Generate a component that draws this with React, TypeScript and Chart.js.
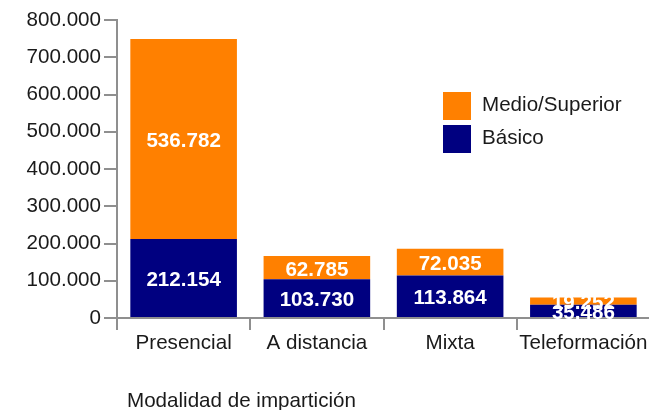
import React, { useEffect, useRef } from "react";
import { Chart, registerables } from "chart.js";

Chart.register(...registerables);

const categories = ["Presencial", "A distancia", "Mixta", "Teleformación"];
const basico = [212154, 103730, 113864, 35486];
const medioSuperior = [536782, 62785, 72035, 19252];
const seriesNames = ["Básico", "Medio/Superior"];
const seriesColors = ["#000080", "#FF8000"];
const axisTitle = "Modalidad de impartición";
const yMax = 800000;
const yStep = 100000;

const FONT = "'Liberation Sans', Arial, sans-serif";
const FS = 20.6;
const AXIS = "#8f8f8f";
const fmt = (n: number) => Math.round(n).toString().replace(/\B(?=(\d{3})+(?!\d))/g, ".");

const overlayPlugin = {
  id: "overlay",
  afterDatasetsDraw(chart: any) {
    const ctx = chart.ctx;
    ctx.save();
    ctx.fillStyle = "#ffffff";
    ctx.font = `bold ${FS}px ${FONT}`;
    ctx.textAlign = "center";
    ctx.textBaseline = "middle";
    chart.data.datasets.forEach((ds: any, di: number) => {
      const meta = chart.getDatasetMeta(di);
      meta.data.forEach((bar: any, i: number) => {
        const cy = (bar.y + bar.base) / 2;
        ctx.fillText(fmt(ds.data[i]), bar.x, cy + 2.5);
      });
    });
    ctx.restore();
  },
  afterDraw(chart: any) {
    const ctx = chart.ctx;
    const area = chart.chartArea;
    ctx.save();
    const items = [
      { name: seriesNames[1], color: seriesColors[1] },
      { name: seriesNames[0], color: seriesColors[0] },
    ];
    const lx = 443;
    let ly = 92;
    ctx.font = `${FS}px ${FONT}`;
    ctx.textAlign = "left";
    ctx.textBaseline = "middle";
    items.forEach((it) => {
      ctx.fillStyle = it.color;
      ctx.fillRect(lx, ly, 28, 28);
      ctx.fillStyle = "#1a1a1a";
      ctx.fillText(it.name, lx + 39, ly + 13);
      ly += 33;
    });
    ctx.fillStyle = "#1a1a1a";
    ctx.fillText(axisTitle, area.left + 10, 401);
    ctx.restore();
  },
};

export default function App() {
  const ref = useRef<HTMLCanvasElement>(null);
  useEffect(() => {
    document.body.style.margin = "0";
    const chart = new Chart(ref.current!, {
      type: "bar",
      data: {
        labels: categories,
        datasets: [
          {
            label: seriesNames[0],
            data: basico,
            backgroundColor: seriesColors[0],
            categoryPercentage: 0.8,
            barPercentage: 1,
          },
          {
            label: seriesNames[1],
            data: medioSuperior,
            backgroundColor: seriesColors[1],
            categoryPercentage: 0.8,
            barPercentage: 1,
          },
        ],
      },
      options: {
        responsive: false,
        animation: false,
        layout: { padding: { top: 20, right: 0, left: 0, bottom: 0 } },
        plugins: { legend: { display: false }, tooltip: { enabled: false } },
        scales: {
          x: {
            stacked: true,
            grid: {
              drawOnChartArea: false,
              tickLength: 12,
              color: AXIS,
              lineWidth: 2,
            },
            border: { color: AXIS, width: 2 },
            ticks: {
              padding: 1,
              color: "#1a1a1a",
              font: { family: FONT, size: FS },
              maxRotation: 0,
              autoSkip: false,
            },
            afterFit(scale: any) {
              scale.height = 92;
            },
          },
          y: {
            stacked: true,
            min: 0,
            max: yMax,
            grid: {
              drawOnChartArea: false,
              tickLength: 13,
              color: AXIS,
              lineWidth: 2,
            },
            border: { color: AXIS, width: 2 },
            ticks: {
              stepSize: yStep,
              padding: 3,
              color: "#1a1a1a",
              font: { family: FONT, size: FS },
              callback: (v: any) => fmt(Number(v)),
            },
            afterFit(scale: any) {
              scale.width = 117;
            },
          },
        },
      },
      plugins: [overlayPlugin],
    });
    return () => chart.destroy();
  }, []);
  return (
    <div style={{ position: "fixed", left: 0, top: 0, width: 649, height: 410, overflow: "hidden", background: "#fff" }}>
      <canvas ref={ref} width={650} height={410} />
    </div>
  );
}
